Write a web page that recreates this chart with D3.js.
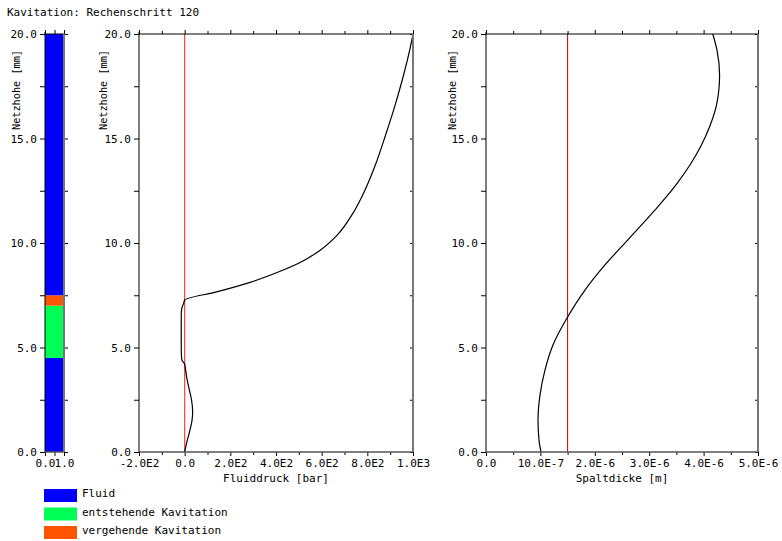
<!DOCTYPE html>
<html><head><meta charset="utf-8">
<script src="https://cdn.jsdelivr.net/npm/d3@7"></script>
<style>
body{margin:0;background:#fff;}
text{font-family:"DejaVu Sans Mono",monospace;font-size:11px;fill:#000;}
</style></head>
<body><svg id="c" width="782" height="541"></svg>
<script>
const title = "Kavitation: Rechenschritt 120";
const yTitle = "Netzhohe [mm]";
// state bar
const segStart = [0, 4.5, 7.0, 7.5];
const segEnd   = [4.5, 7.0, 7.5, 20];
const segState = [0, 1, 2, 0];
const stateNames = ["Fluid", "entstehende Kavitation", "vergehende Kavitation"];
const stateColors = ["#0000ff", "#00ff55", "#ff5500"];
const barTickValues = [0, 0.5, 1];
const barTickLabels = ["0.0", "", "1.0"];
// pressure profile
const pHeight = [0, 0.5, 1.0, 1.5, 1.9, 2.5, 3.0, 3.5, 4.0, 4.2, 4.4, 4.6, 5.0, 6.0, 6.6, 6.9, 7.1, 7.27, 7.66, 8.13, 8.61, 9.09, 9.67, 10.38, 11.48, 12.54, 13.73, 15.17, 16.36, 17.8, 19.2, 20];
const pressure = [0, 10, 22, 32, 35, 30, 20, 10, 3, 0, -12, -14, -15, -15, -15, -12, -5, 0, 140, 290, 410, 510, 595, 668, 740, 790, 835, 880, 915, 953, 985, 1000];
const pTickValues = [-200,-100,0,100,200,300,400,500,600,700,800,900,1000];
const pTickLabels = ["-2.0E2","","0.0","","2.0E2","","4.0E2","","6.0E2","","8.0E2","","1.0E3"];
const pRef = 0;
// gap profile
const gHeight = [0, 0.57, 1.53, 2.73, 3.92, 5.12, 6.41, 7.75, 8.95, 10.14, 11.58, 12.78, 13.73, 14.69, 15.65, 16.6, 17.32, 18.04, 19.23, 20];
const gap = [1.011e-6, 0.974e-6, 0.956e-6, 0.993e-6, 1.084e-6, 1.231e-6, 1.489e-6, 1.82e-6, 2.187e-6, 2.604e-6, 3.108e-6, 3.492e-6, 3.749e-6, 3.96e-6, 4.123e-6, 4.237e-6, 4.28e-6, 4.294e-6, 4.246e-6, 4.169e-6];
const gTickValues = [0,0.5e-6,1e-6,1.5e-6,2e-6,2.5e-6,3e-6,3.5e-6,4e-6,4.5e-6,5e-6];
const gTickLabels = ["0.0","","10.0E-7","","2.0E-6","","3.0E-6","","4.0E-6","","5.0E-6"];
const gRef = 1.5e-6;
const yTickValues = [0,2.5,5,7.5,10,12.5,15,17.5,20];
const yTickLabels = ["0.0","","5.0","","10.0","","15.0","","20.0"];

const svg = d3.select("#c");
const yTop = 34, yBot = 452;
const y = d3.scaleLinear().domain([0,20]).range([yBot, yTop]);

svg.append("text").attr("x",7).attr("y",16).text(title);

function panel(x0, x1, domain, tickVals, tickLabs, xTitle, yTitleX, opts) {
  const x = d3.scaleLinear().domain(domain).range([x0, x1]);
  const g = svg.append("g");
  const ya = g.append("g").attr("transform",`translate(${x0},0)`)
    .call(d3.axisLeft(y).tickValues(yTickValues).tickSize(5).tickPadding(3)
      .tickFormat((d,i)=>yTickLabels[i]));
  ya.select(".domain").remove();
  ya.selectAll("line").attr("stroke","#000");
  const ra = g.append("g").attr("transform",`translate(${x1},0)`)
    .call(d3.axisRight(y).tickValues(yTickValues).tickSize(opts.rightOut ? 4 : -3).tickFormat(""));
  ra.select(".domain").remove();
  ra.selectAll("line").attr("stroke","#000");
  const ta = g.append("g").attr("transform",`translate(0,${yTop})`)
    .call(d3.axisTop(x).tickValues(tickVals).tickSize(4).tickFormat(""));
  ta.select(".domain").remove();
  ta.selectAll("line").attr("stroke","#000").attr("y2",(d,i)=> tickLabs[i]==="" && !opts.allMajor ? -3 : -4);
  const ba = g.append("g").attr("transform",`translate(0,${yBot})`)
    .call(d3.axisBottom(x).tickValues(tickVals).tickSize(4).tickPadding(3)
      .tickFormat((d,i)=>tickLabs[i]));
  ba.select(".domain").remove();
  ba.selectAll("line").attr("stroke","#000").attr("y2",(d,i)=> tickLabs[i]==="" && !opts.allMajor ? 3 : 4);
  g.selectAll(".tick text").style("font-family",'"DejaVu Sans Mono",monospace').style("font-size","11px");

  if (xTitle) g.append("text").attr("x",(x0+x1)/2).attr("y",482).attr("text-anchor","middle").text(xTitle);
  g.append("text").attr("transform",`translate(${yTitleX},90) rotate(-90)`).attr("text-anchor","middle")
    .attr("textLength",80).attr("lengthAdjust","spacingAndGlyphs").text(yTitle);
  return {x, g};
}

function frame(g, x0, x1) {
  g.append("line").attr("x1",x0).attr("x2",x1).attr("y1",yTop).attr("y2",yTop).attr("stroke","#000");
  g.append("line").attr("x1",x0).attr("x2",x0).attr("y1",yTop-2).attr("y2",yBot).attr("stroke","#000");
  g.append("line").attr("x1",x0).attr("x2",x1).attr("y1",yBot).attr("y2",yBot).attr("stroke","#555").attr("stroke-width",1.5);
  g.append("line").attr("x1",x1).attr("x2",x1).attr("y1",yTop).attr("y2",yBot).attr("stroke","#777").attr("stroke-width",2);
}

// bar panel
const pb = panel(45, 64, [0,1], barTickValues, barTickLabels, "", 20, {rightOut:true, allMajor:true});
pb.g.selectAll("rect.seg").data(segStart).enter().append("rect").attr("class","seg")
  .attr("x",pb.x(0)).attr("width",pb.x(1)-pb.x(0))
  .attr("y",(d,i)=>y(segEnd[i])).attr("height",(d,i)=>y(segStart[i])-y(segEnd[i]))
  .attr("fill",(d,i)=>stateColors[segState[i]]);
frame(pb.g, 45, 64);

// pressure panel
const pm = panel(139, 413, [-200,1000], pTickValues, pTickLabels, "Fluiddruck [bar]", 107, {});
pm.g.append("line").attr("x1",pm.x(pRef)).attr("x2",pm.x(pRef)).attr("y1",yTop).attr("y2",yBot)
  .attr("stroke","#ff3b3b").attr("stroke-width",1.2);
pm.g.append("path").datum(pressure).attr("fill","none").attr("stroke","#000").attr("stroke-width",1.2)
  .attr("d", d3.line().x(d=>pm.x(d)).y((d,i)=>y(pHeight[i])).curve(d3.curveMonotoneY));
frame(pm.g, 139, 413);

// gap panel
const pr = panel(486, 758, [0,5e-6], gTickValues, gTickLabels, "Spaltdicke [m]", 456, {});
pr.g.append("line").attr("x1",pr.x(gRef)).attr("x2",pr.x(gRef)).attr("y1",yTop).attr("y2",yBot)
  .attr("stroke","#c00000").attr("stroke-width",1);
pr.g.append("path").datum(gap).attr("fill","none").attr("stroke","#000").attr("stroke-width",1.2)
  .attr("d", d3.line().x(d=>pr.x(d)).y((d,i)=>y(gHeight[i])).curve(d3.curveMonotoneY));
frame(pr.g, 486, 758);

// legend
const lg = svg.append("g");
lg.selectAll("rect").data(stateNames).enter().append("rect")
  .attr("x",44).attr("y",(d,i)=>489+i*18.5).attr("width",33).attr("height",13)
  .attr("fill",(d,i)=>stateColors[i]);
lg.selectAll("text").data(stateNames).enter().append("text")
  .attr("x",82).attr("y",(d,i)=>497+i*18.5).text(d=>d);
</script></body></html>
